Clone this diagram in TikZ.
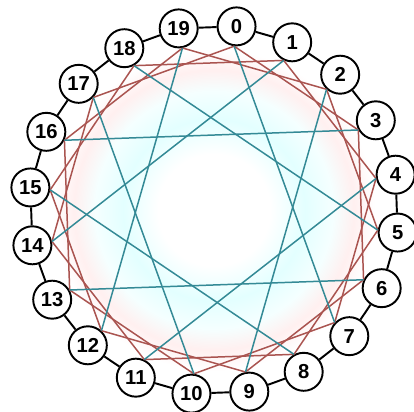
\documentclass[tikz,border=0pt]{standalone}
\usepackage{fontspec}
\setsansfont{Liberation Sans}
\usetikzlibrary{arrows.meta, positioning, calc}

\definecolor{chordred}{RGB}{170,84,80}
\definecolor{chordteal}{RGB}{52,138,150}
\pgfdeclareradialshading{glow}{\pgfpoint{0bp}{0bp}}{%
  color(0bp)=(white); color(8bp)=(white); color(13bp)=(cyan!11);
  color(17bp)=(cyan!4); color(20bp)=(red!6); color(23bp)=(white);
  color(50bp)=(white)}

\begin{document}
\begin{tikzpicture}[
  vertex/.style={circle, draw, line width=1.1pt, fill=white,
                 minimum size=7.6mm, inner sep=0pt,
                 font=\sffamily\bfseries\fontsize{11.5}{13}\selectfont},
  ring/.style={line width=1.1pt},
  redline/.style={chordred, line width=0.85pt},
  tealline/.style={chordteal, line width=0.85pt},
]
\useasboundingbox (0,0) rectangle (8.28,8.22);
\coordinate (c) at (4.28,4.02);

% ---- glow ----
\shade[shading=glow] (c) circle (3.5);

% ---- vertices ----
\foreach \i in {0,...,19}
  \node[vertex] (v\i) at ($(c)+({83-18*\i}:3.7)$) {\i};

% ---- edges (chords leave each vertex on its inner side) ----
\foreach \i in {0,...,19} {
  \pgfmathtruncatemacro{\j}{mod(\i+3,20)}
  \pgfmathsetmacro{\a}{263-18*\i}
  \pgfmathsetmacro{\b}{263-18*\j}
  \draw[redline] (v\i.\a) -- (v\j.\b);
}
\foreach \i in {0,2,...,18} {
  \pgfmathtruncatemacro{\j}{mod(\i+7,20)}
  \pgfmathsetmacro{\a}{263-18*\i}
  \pgfmathsetmacro{\b}{263-18*\j}
  \draw[tealline] (v\i.\a) -- (v\j.\b);
}
\foreach \i in {0,...,19} {
  \pgfmathtruncatemacro{\j}{mod(\i+1,20)}
  \draw[ring] (v\i) -- (v\j);
}

\end{tikzpicture}
\end{document}
